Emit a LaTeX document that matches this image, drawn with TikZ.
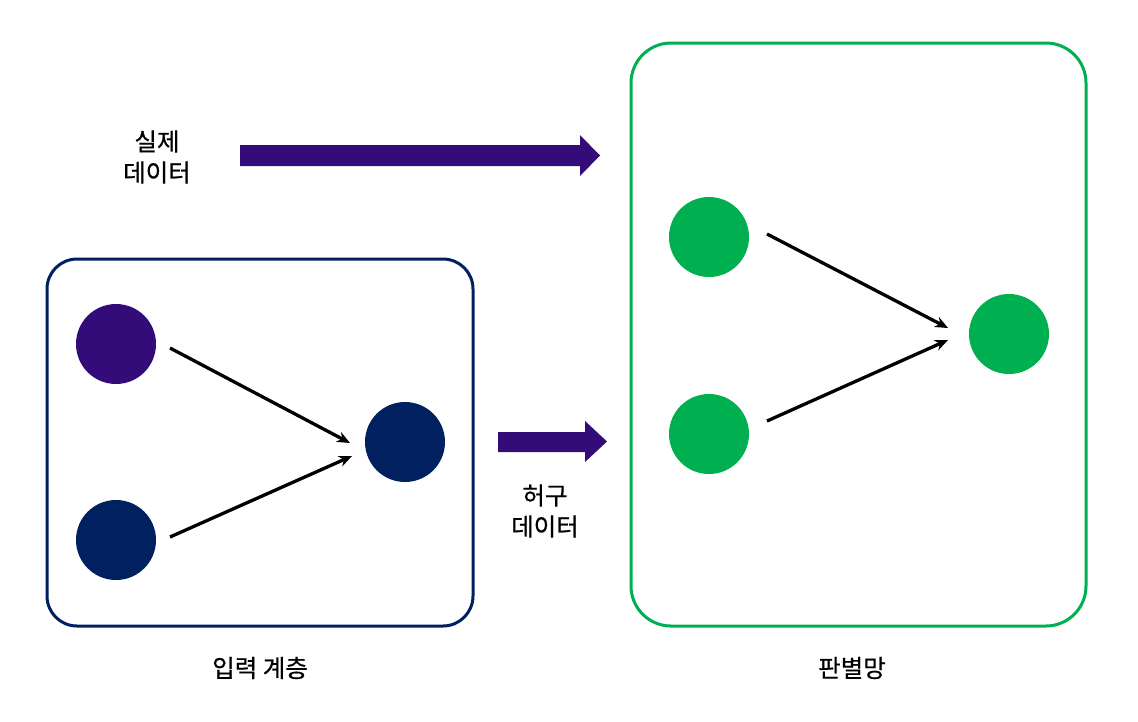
\documentclass[tikz,border=0pt]{standalone}
\usepackage{fontspec}
\usetikzlibrary{arrows.meta}
\setmainfont[FakeBold=0.6]{Noto Sans CJK KR}
\begin{document}
\begin{tikzpicture}[x=1pt,y=-1pt,
  navy/.style={draw=navyc,line width=3pt,rounded corners=30pt},
  greenbox/.style={draw=greenc,line width=3pt,rounded corners=40pt},
  dot/.style={circle,minimum size=80pt,inner sep=0pt},
  conn/.style={-{Stealth[length=13pt,width=11pt]},line width=3.3pt},
  lbl/.style={font=\fontsize{24.5pt}{31pt}\selectfont,align=center}]
\definecolor{navyc}{HTML}{002060}
\definecolor{greenc}{HTML}{00B050}
\definecolor{purp}{HTML}{330C7A}
\useasboundingbox (0,0) rectangle (1138,721);
\fill[white] (0,0) rectangle (1138,721);
\draw[navy] (47,259) rectangle (473,626);
\draw[greenbox] (631,43) rectangle (1086,626);
\node[dot,fill=purp] (a1) at (116,344) {};
\node[dot,fill=navyc] (a2) at (116,540) {};
\node[dot,fill=navyc] (a3) at (405,442) {};
\node[dot,fill=greenc] (g1) at (709,237) {};
\node[dot,fill=greenc] (g2) at (709,434) {};
\node[dot,fill=greenc] (g3) at (1009,334) {};
\coordinate (a1s) at (170,348); \coordinate (a1e) at (350,443);
\coordinate (a2s) at (170,537); \coordinate (a2e) at (352,456);
\coordinate (g1s) at (767,234); \coordinate (g1e) at (948,328);
\coordinate (g2s) at (767,421); \coordinate (g2e) at (948,340);
\draw[conn] (a1s) -- (a1e);
\draw[conn] (a2s) -- (a2e);
\draw[conn] (g1s) -- (g1e);
\draw[conn] (g2s) -- (g2e);
\fill[purp] (240,145) -- (580,145) -- (580,135) -- (600,155.5) -- (580,176) -- (580,166) -- (240,166) -- cycle;
\fill[purp] (498,432) -- (585,432) -- (585,421) -- (607,441.5) -- (585,462) -- (585,452) -- (498,452) -- cycle;
\node[lbl] (t1) at (157,157) {실제\\데이터};
\node[lbl] (t2) at (545,511) {허구\\데이터};
\node[lbl] (t3) at (260,668) {입력 계층};
\node[lbl] (t4) at (852,668) {판별망};
\end{tikzpicture}
\end{document}
